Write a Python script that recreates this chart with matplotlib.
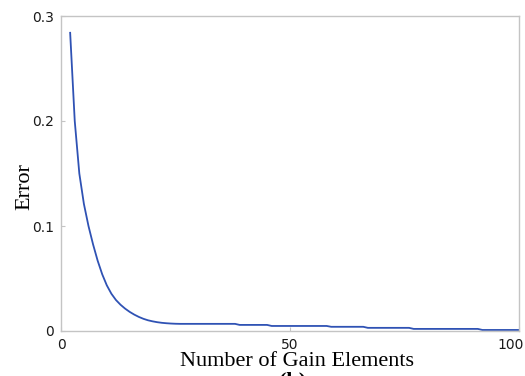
"""Error vs number of gain elements."""

import matplotlib
matplotlib.use("Agg")

import matplotlib.pyplot as plt
from matplotlib.transforms import ScaledTranslation
import numpy as np


n_gain = np.arange(2, 101)

err_head = [0.284, 0.200, 0.150, 0.121, 0.100, 0.0825, 0.067, 0.054, 0.0435,
            0.0355, 0.0295, 0.0250, 0.0213, 0.0182, 0.0156, 0.0134, 0.0116,
            0.0102, 0.0092, 0.0084, 0.0078, 0.0074, 0.0071, 0.0069]   # n = 2..25
err_tail = ([0.0068] * 13 + [0.0058] * 7 + [0.0048] * 13 + [0.0040] * 8
            + [0.0030] * 10 + [0.0020] * 15 + [0.0010] * 9)          # n = 26..100
error = np.array(err_head + err_tail)

x_ticks = [0, 50, 100]
y_ticks = [0, 0.1, 0.2, 0.3]
y_tick_labels = ["0", "0.1", "0.2", "0.3"]

LINE = "#2f52b4"
FRAME = "#c4c4c4"

fig = plt.figure(figsize=(5.25, 3.76), dpi=100)
ax = fig.add_axes([61 / 525, 1 - 331 / 376, 458 / 525, 315 / 376])

ax.plot(n_gain, error, color=LINE, linewidth=1.3)

ax.set_xlim(0, 100)
ax.set_ylim(0, 0.3)
ax.set_xticks(x_ticks)
ax.set_yticks(y_ticks)
ax.set_yticklabels(y_tick_labels)

for sp in ax.spines.values():
    sp.set_color(FRAME)
    sp.set_linewidth(1.0)

ax.tick_params(direction="in", length=3, width=0.8, color=FRAME,
               labelsize=10, labelcolor="#1a1a1a")
ax.tick_params(axis="y", pad=5)
ax.tick_params(axis="x", pad=5)

# keep the last x label inside the canvas, like the original
last = ax.get_xticklabels()[-1]
last.set_transform(last.get_transform() + ScaledTranslation(-6 / 72, 0, fig.dpi_scale_trans))

serif = {"family": "Liberation Serif", "size": 16}
ax.set_xlabel("Number of Gain Elements", fontdict=serif)
ax.xaxis.set_label_coords(0.515, -0.066)
ax.set_ylabel("Error", fontdict=serif)
ax.yaxis.set_label_coords(-0.058, 0.46)

fig.text(293 / 525, 1 - 371 / 376, "(b)", ha="center", va="top",
         fontfamily="Liberation Serif", fontsize=16, fontweight="bold")

fig.savefig("out.png", dpi=100)
